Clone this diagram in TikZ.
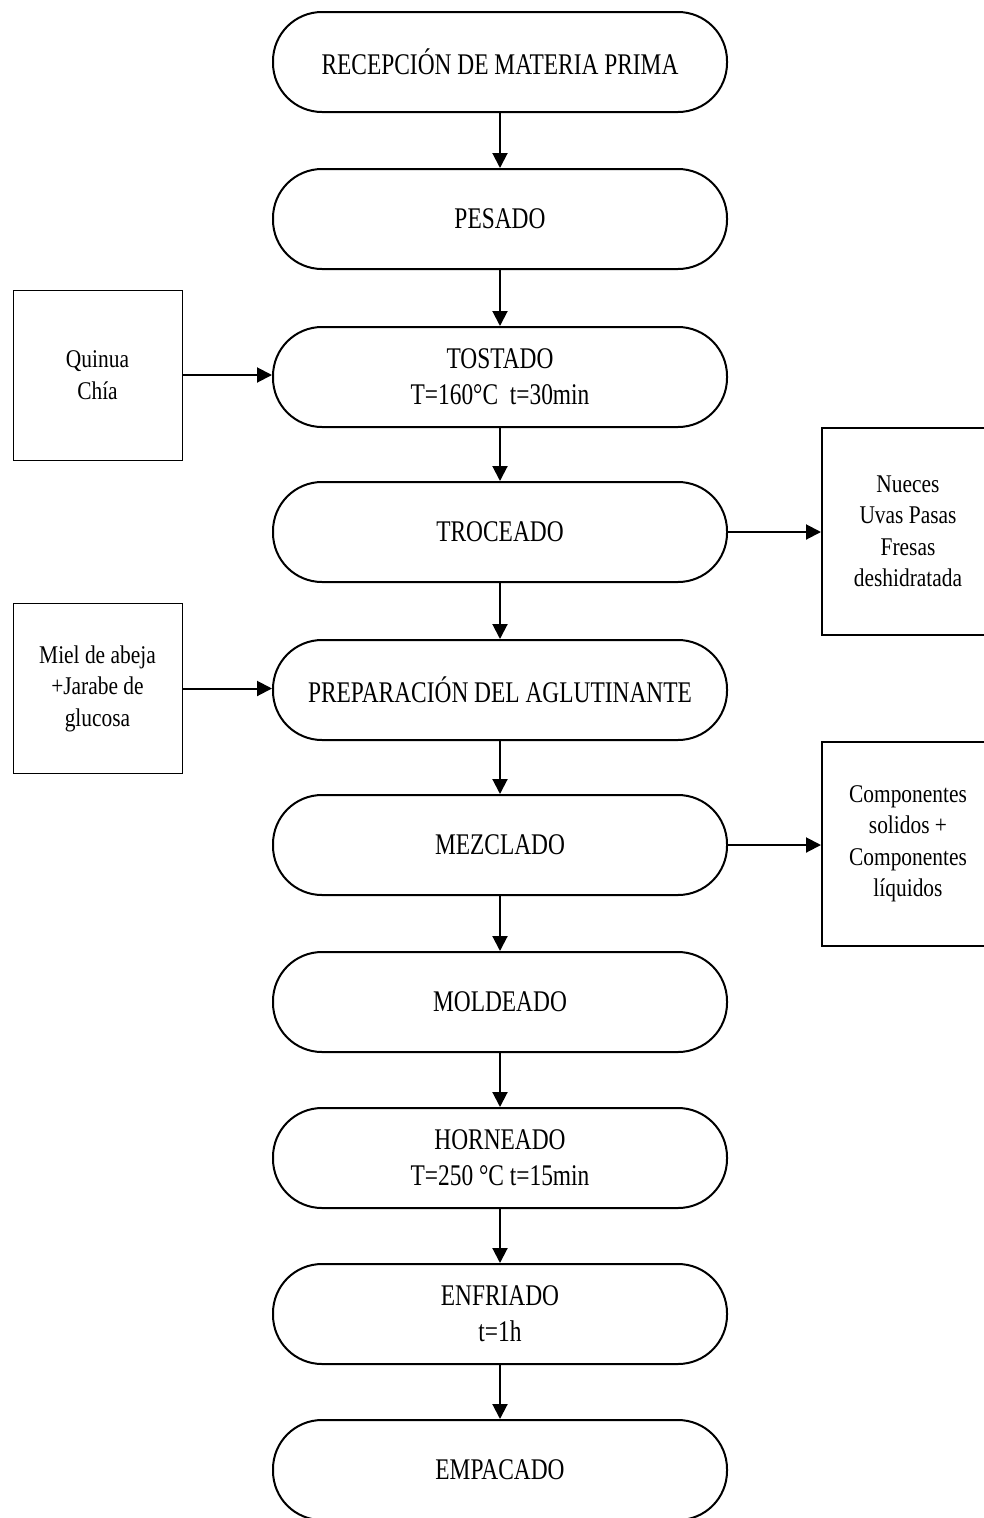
\documentclass[tikz,border=0pt]{standalone}
\usepackage{fontspec}
\setmainfont{Liberation Serif}
\newfontfamily\mainf[FakeStretch=0.78]{Liberation Serif}
\newfontfamily\sidef[FakeStretch=0.84]{Liberation Serif}
\usetikzlibrary{arrows.meta}
\begin{document}
\begin{tikzpicture}[x=1pt,y=-1pt,
  proc/.style={draw, line width=2pt, rounded corners=49pt, minimum width=454pt, minimum height=100pt, inner sep=0pt, align=center, font=\mainf\fontsize{30}{36}\selectfont},
  inleft/.style={draw, line width=1pt, minimum width=169pt, minimum height=170pt, inner sep=0pt, align=center, font=\sidef\fontsize{25.5}{31.5}\selectfont},
  inright/.style={draw, line width=2pt, minimum width=172pt, inner sep=0pt, align=center, font=\sidef\fontsize{25.5}{31.5}\selectfont},
  flow/.style={line width=2pt, -{Triangle[length=15pt,width=15pt]}}
]
\useasboundingbox (0,0) rectangle (983,1518);
\node[proc] (n1) at (500,62) {RECEPCIÓN DE MATERIA PRIMA};
\node[proc] (n2) at (500,219) {PESADO};
\node[proc] (n3) at (500,377) {TOSTADO\\T=160°C\ \ t=30min};
\node[proc] (n4) at (500,532) {TROCEADO};
\node[proc] (n5) at (500,690) {PREPARACIÓN DEL AGLUTINANTE};
\node[proc] (n6) at (500,845) {MEZCLADO};
\node[proc] (n7) at (500,1002) {MOLDEADO};
\node[proc] (n8) at (500,1158) {HORNEADO\\T=250 °C t=15min};
\node[proc] (n9) at (500,1314) {ENFRIADO\\t=1h};
\node[proc] (n10) at (500,1470) {EMPACADO};

\node[inleft] (q) at (97.5,375) {Quinua\\Chía};
\node[inleft] (m) at (97.5,688.5) {Miel de abeja\\+Jarabe de\\glucosa};
\node[inright, minimum height=207pt] (nu) at (908,531.5) {Nueces\\Uvas Pasas\\Fresas\\deshidratada};
\node[inright, minimum height=204pt] (co) at (908,844) {Componentes\\solidos +\\Componentes\\líquidos};

\foreach \a/\b in {n1/n2,n2/n3,n3/n4,n4/n5,n5/n6,n6/n7,n7/n8,n8/n9,n9/n10}
  \draw[flow] (\a.south) -- (\b.north);
\draw[flow] (q.east) -- (q.east -| n3.west);
\draw[flow] (m.east) -- (m.east -| n5.west);
\draw[flow] (n4.east) -- (n4.east -| nu.west);
\draw[flow] (n6.east) -- (n6.east -| co.west);
\end{tikzpicture}
\end{document}
